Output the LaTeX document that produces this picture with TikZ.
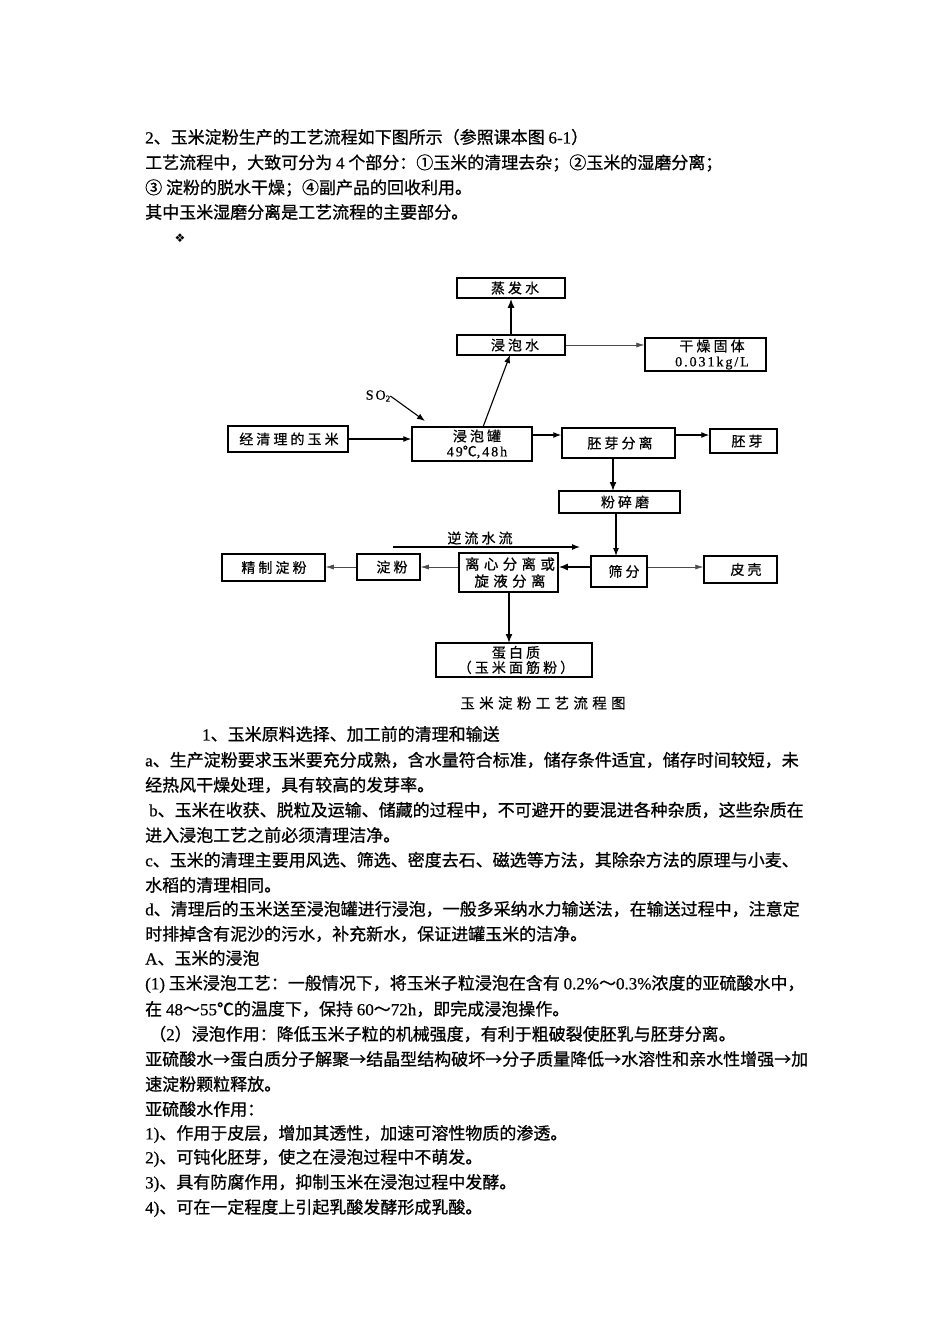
\documentclass[tikz,border=0pt]{standalone}
\usepackage{fontspec}
\usetikzlibrary{arrows.meta}
\setmainfont{Noto Sans CJK SC}
\newfontfamily\cnbody{Noto Sans CJK SC}[FakeBold=0.8]
\newfontfamily\cnlab{Noto Sans CJK SC}[FakeBold=0.5,LetterSpace=22]
\newfontfamily\cnwide{Noto Sans CJK SC}[FakeBold=0.5,LetterSpace=30]
\newfontfamily\lsb{Liberation Serif}[FakeBold=0.5]
\newfontfamily\lsw{Liberation Serif}[FakeBold=0.6,LetterSpace=14]
\newfontfamily\syms{DejaVu Sans}
\newcommand{\ls}[1]{{\lsb #1}}
\newcommand{\lw}[1]{{\lsw #1}}
\newcommand{\fc}{^^^^ff0c}
\newcommand{\fk}{^^^^ff1a}
\newcommand{\fs}{^^^^ff1b}
\newcommand{\fl}{^^^^ff08}
\newcommand{\fr}{^^^^ff09}
\newcommand{\ft}{^^^^ff5e}
\tikzset{
 x=1pt,y=-1pt,
 body/.style={anchor=west,inner sep=0pt,font=\fontsize{17}{17}\selectfont\cnbody},
 pbox/.style={draw=black,line width=1.5pt,inner sep=0pt},
 lbl/.style={inner sep=0pt,align=center,font=\fontsize{14}{15}\selectfont\cnlab},
 lblw/.style={inner sep=0pt,align=center,font=\fontsize{14.5}{17}\selectfont\cnwide},
 flow/.style={draw=black,line width=1.1pt,-{Latex[length=8pt,width=6pt]}},
 thin flow/.style={draw=black!70,line width=.6pt,-{Latex[length=8pt,width=5pt]}},
 heavy flow/.style={draw=black,line width=1.6pt,-{Latex[length=9pt,width=7pt]}}
}
% name, x1, y1, x2, y2, text centre x, text
\newcommand{\boxn}[7]{%
 \node[pbox,minimum width=#4pt-#2pt,minimum height=#5pt-#3pt] (#1) at ({(#2+#4)/2},{(#3+#5)/2}) {};
 \node[lbl] (#1t) at (#6,{(#3+#5)/2}) {#7};}
\newcommand{\bline}[4]{\node[body] (#1) at (#2,#3) {#4};}
\begin{document}
\begin{tikzpicture}
\useasboundingbox[fill=white] (0,0) rectangle (950,1344);
\bline{t1}{145}{137}{\ls{2}、玉米淀粉生产的工艺流程如下图所示\fl{}参照课本图 \ls{6-1}\fr{}}
\bline{t2}{145}{163}{工艺流程中\fc{}大致可分为 \ls{4} 个部分\fk{}①玉米的清理去杂\fs{}②玉米的湿磨分离\fs{}}
\bline{t3}{145}{188}{③ 淀粉的脱水干燥\fs{}④副产品的回收利用。}
\bline{t4}{145}{212}{其中玉米湿磨分离是工艺流程的主要部分。}
\node[inner sep=0pt,font=\syms\fontsize{12}{12}\selectfont] (t5) at (180,238) {❖};

\boxn{a}{457}{278}{565}{298}{515}{蒸发水}
\boxn{b}{457}{335}{565}{355}{515}{浸泡水}
\boxn{c}{645}{338}{766}{371}{712}{干燥固体\\\lw{0.031kg/L}}
\boxn{d}{228}{426}{348}{452}{289}{经清理的玉米}
\boxn{e}{412}{427}{532}{461}{477}{浸泡罐\\\lw{49}℃\lw{,48h}}
\boxn{f}{562}{428}{675}{458}{620}{胚芽分离}
\boxn{g}{710}{429}{777}{453}{747}{胚芽}
\boxn{h}{559}{491}{680}{513}{625}{粉碎磨}
\boxn{i}{222}{554}{325}{581}{274}{精制淀粉}
\boxn{j}{357}{554}{420}{580}{392}{淀粉}
\node[pbox,minimum width=99pt,minimum height=39pt] (k) at (508.5,572.5) {};
\node[lblw] (kt) at (510,572.5) {离心分离或\\旋液分离};
\boxn{l}{591}{556}{647}{587}{624}{筛分}
\boxn{m}{704}{556}{777}{583}{746}{皮壳}
\boxn{n}{436}{643}{592}{677}{516}{蛋白质\\\fl{}玉米面筋粉\fr{}}
\node[inner sep=0pt,font=\fontsize{14}{14}\selectfont\lsw] (so) at (378,396) {SO\raisebox{-2pt}{\fontsize{9}{9}\selectfont 2}};
\node[lbl] (ni) at (480,538) {逆流水流};
\node[lblw] (cap) at (543,703) {玉米淀粉工艺流程图};
\coordinate (nia) at (393,547);
\coordinate (nib) at (580,547);
\coordinate (sotip) at (425,421);
\coordinate (eb) at (483,427);
\coordinate (bt) at (510,355);
\coordinate (fa) at (613,458);
\coordinate (ha) at (613,491);
\coordinate (hb) at (616,513);
\coordinate (la) at (616,556);
\coordinate (ka) at (509,592);
\coordinate (na) at (509,643);
\draw[heavy flow] (b.north) -- (a.south);
\draw[thin flow] (b.east) -- (c.west |- b.east);
\draw[flow] (so.east) -- (sotip);
\draw[flow] (d.east) -- (e.west |- d.east);
\draw[flow] (eb) -- (bt);
\draw[flow] (e.east |- 0,435) -- (f.west |- 0,435);
\draw[flow] (f.east |- 0,435) -- (g.west |- 0,435);
\draw[heavy flow] (fa) -- (ha);
\draw[flow] (hb) -- (la);
\draw[flow] (nia) -- (nib);
\draw[heavy flow] (l.west |- j.east) -- (k.east |- j.east);
\draw[thin flow] (k.west |- j.east) -- (j.east);
\draw[thin flow] (j.west) -- (i.east |- j.west);
\draw[thin flow] (l.east |- j.east) -- (m.west |- j.east);
\draw[heavy flow] (ka) -- (na);

\bline{p1}{202}{734}{\ls{1}、玉米原料选择、加工前的清理和输送}
\bline{p2}{145}{760}{\ls{a}、生产淀粉要求玉米要充分成熟\fc{}含水量符合标准\fc{}储存条件适宜\fc{}储存时间较短\fc{}未}
\bline{p3}{145}{785}{经热风干燥处理\fc{}具有较高的发芽率。}
\bline{p4}{149}{810}{\ls{b}、玉米在收获、脱粒及运输、储藏的过程中\fc{}不可避开的要混进各种杂质\fc{}这些杂质在}
\bline{p5}{145}{835}{进入浸泡工艺之前必须清理洁净。}
\bline{p6}{145}{860}{\ls{c}、玉米的清理主要用风选、筛选、密度去石、磁选等方法\fc{}其除杂方法的原理与小麦、}
\bline{p7}{145}{885}{水稻的清理相同。}
\bline{p8}{145}{909}{\ls{d}、清理后的玉米送至浸泡罐进行浸泡\fc{}一般多采纳水力输送法\fc{}在输送过程中\fc{}注意定}
\bline{p9}{145}{934}{时排掉含有泥沙的污水\fc{}补充新水\fc{}保证进罐玉米的洁净。}
\bline{p10}{145}{958}{\ls{A}、玉米的浸泡}
\bline{p11}{145}{984}{\ls{(1)} 玉米浸泡工艺\fk{}一般情况下\fc{}将玉米子粒浸泡在含有 \ls{0.2\%}\ft{}\ls{0.3\%}浓度的亚硫酸水中\fc{}}
\bline{p12}{145}{1009}{在 \ls{48}\ft{}\ls{55}℃的温度下\fc{}保持 \ls{60}\ft{}\ls{72h}\fc{}即完成浸泡操作。}
\bline{p13}{149}{1034}{\fl{}\ls{2}\fr{}浸泡作用\fk{}降低玉米子粒的机械强度\fc{}有利于粗破裂使胚乳与胚芽分离。}
\bline{p14}{145}{1059}{亚硫酸水→蛋白质分子解聚→结晶型结构破坏→分子质量降低→水溶性和亲水性增强→加}
\bline{p15}{145}{1084}{速淀粉颗粒释放。}
\bline{p16}{145}{1109}{亚硫酸水作用\fk{}}
\bline{p17}{145}{1134}{\ls{1)}、作用于皮层\fc{}增加其透性\fc{}加速可溶性物质的渗透。}
\bline{p18}{145}{1158}{\ls{2)}、可钝化胚芽\fc{}使之在浸泡过程中不萌发。}
\bline{p19}{145}{1183}{\ls{3)}、具有防腐作用\fc{}抑制玉米在浸泡过程中发酵。}
\bline{p20}{145}{1208}{\ls{4)}、可在一定程度上引起乳酸发酵形成乳酸。}
\end{tikzpicture}
\end{document}
